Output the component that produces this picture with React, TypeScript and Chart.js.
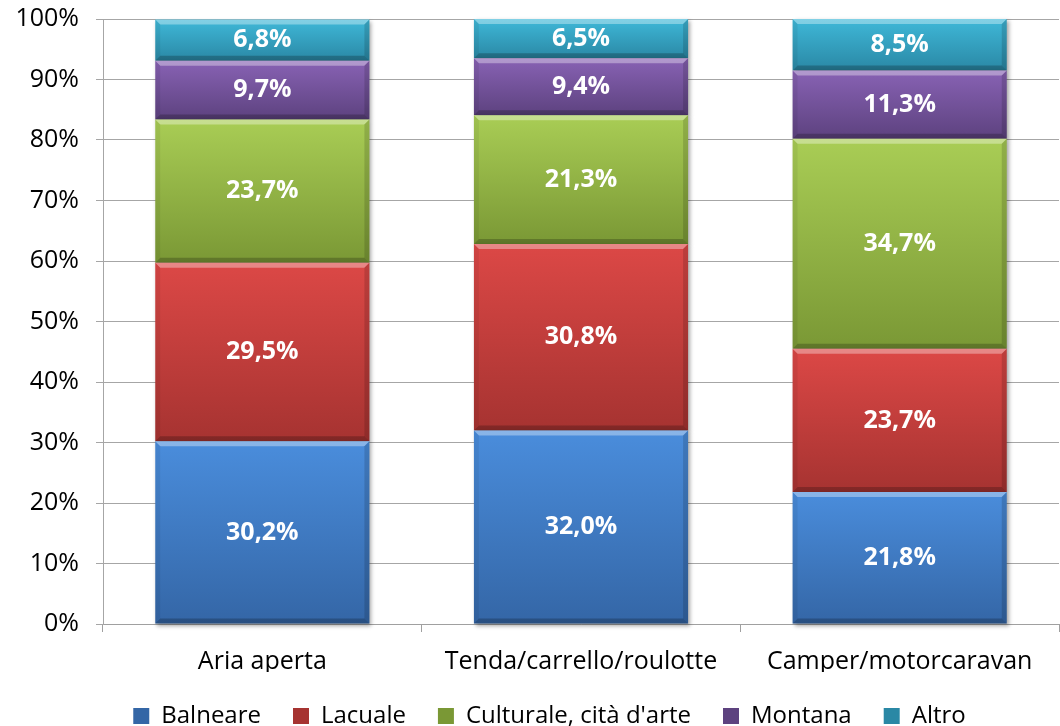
import React, { useEffect, useRef } from "react";
import { Chart, registerables } from "chart.js";

Chart.register(...registerables);

const categories = ["Aria aperta", "Tenda/carrello/roulotte", "Camper/motorcaravan"];
const seriesNames = ["Balneare", "Lacuale", "Culturale, cità d'arte", "Montana", "Altro"];
const balneare = [30.2, 32.0, 21.8];
const lacuale = [29.5, 30.8, 23.7];
const culturale = [23.7, 21.3, 34.7];
const montana = [9.7, 9.4, 11.3];
const altro = [6.8, 6.5, 8.5];
const yTickValues = [0, 10, 20, 30, 40, 50, 60, 70, 80, 90, 100];

const seriesData = [balneare, lacuale, culturale, montana, altro];

const palettes = [
  { top: "#4a8ddc", bottom: "#3466a6", solid: "#4079c5" },
  { top: "#dc4846", bottom: "#a63331", solid: "#c43e3c" },
  { top: "#a9cd55", bottom: "#7a9835", solid: "#93b548" },
  { top: "#8862b4", bottom: "#5d427f", solid: "#7353a0" },
  { top: "#3fb8d8", bottom: "#2a88a5", solid: "#35a3c4" },
];

const FONT = "'Open Sans', 'Noto Sans', sans-serif";

const fmt = (v: number) => v.toFixed(1).replace(".", ",") + "%";

const bevelPlugin = {
  id: "bevelLabels",
  afterLayout(chart: any) {
    if (chart.legend) {
      chart.legend.left += 20;
      chart.legend.right += 20;
    }
  },
  beforeDatasetsDraw(chart: any) {
    const ctx = chart.ctx;
    ctx.save();
    ctx.shadowColor = "rgba(0,0,0,0.35)";
    ctx.shadowBlur = 4;
    ctx.shadowOffsetX = 2;
    ctx.shadowOffsetY = 2;
  },
  afterDatasetsDraw(chart: any) {
    const ctx = chart.ctx;
    ctx.restore();
    ctx.save();
    const b = 5;
    chart.data.datasets.forEach((ds: any, di: number) => {
      const meta = chart.getDatasetMeta(di);
      meta.data.forEach((el: any, i: number) => {
        const p = el.getProps(["x", "y", "base", "width"], true);
        const left = p.x - p.width / 2;
        const right = p.x + p.width / 2;
        const top = Math.min(p.y, p.base);
        const bottom = Math.max(p.y, p.base);
        const poly = (pts: number[][], color: string) => {
          ctx.beginPath();
          ctx.moveTo(pts[0][0], pts[0][1]);
          for (let k = 1; k < pts.length; k++) ctx.lineTo(pts[k][0], pts[k][1]);
          ctx.closePath();
          ctx.fillStyle = color;
          ctx.fill();
        };
        poly([[left, top], [right, top], [right - b, top + b], [left + b, top + b]], "rgba(255,255,255,0.35)");
        poly([[left, bottom], [right, bottom], [right - b, bottom - b], [left + b, bottom - b]], "rgba(0,0,0,0.22)");
        poly([[left, top], [left + b, top + b], [left + b, bottom - b], [left, bottom]], "rgba(0,0,0,0.06)");
        poly([[right, top], [right - b, top + b], [right - b, bottom - b], [right, bottom]], "rgba(0,0,0,0.14)");
        const v = ds.data[i];
        ctx.fillStyle = "#ffffff";
        ctx.font = `bold 25px ${FONT}`;
        ctx.textAlign = "center";
        ctx.textBaseline = "middle";
        ctx.fillText(fmt(v), p.x, (top + bottom) / 2);
      });
    });
    ctx.restore();
  },
};

export default function App() {
  const ref = useRef<HTMLCanvasElement | null>(null);
  useEffect(() => {
    if (!ref.current) return;
    const chart = new Chart(ref.current, {
      type: "bar",
      data: {
        labels: categories,
        datasets: seriesNames.map((name, di) => ({
          label: name,
          data: seriesData[di],
          borderWidth: 0,
          categoryPercentage: 1,
          barPercentage: 0.672,
          clip: false as any,
          backgroundColor: (c: any) => {
            const p = palettes[c.datasetIndex];
            if (c.type !== "data") return p.solid;
            const ch = c.chart;
            const y = ch.scales && ch.scales.y;
            if (!y || !ch.chartArea) return p.solid;
            let start = 0;
            for (let d = 0; d < c.datasetIndex; d++) start += seriesData[d][c.dataIndex];
            const end = start + seriesData[c.datasetIndex][c.dataIndex];
            const y0 = y.getPixelForValue(end);
            const y1 = y.getPixelForValue(start);
            if (!isFinite(y0) || !isFinite(y1) || y0 === y1) return p.solid;
            const g = ch.ctx.createLinearGradient(0, y0, 0, y1);
            g.addColorStop(0, p.top);
            g.addColorStop(1, p.bottom);
            return g;
          },
        })),
      },
      options: {
        animation: false,
        responsive: true,
        maintainAspectRatio: false,
        layout: { padding: { top: 19, right: 1, left: 0, bottom: -12 } },
        plugins: {
          legend: {
            position: "bottom",
            labels: {
              boxWidth: 16,
              boxHeight: 16,
              padding: 32,
              color: "#000000",
              font: { family: FONT, size: 24 },
            },
          },
          tooltip: { enabled: false },
        },
        scales: {
          x: {
            stacked: true,
            grid: { display: true, drawOnChartArea: false, drawTicks: true, tickLength: 8, color: "#a0a0a0" },
            border: { display: true, color: "#a0a0a0" },
            ticks: { color: "#000000", padding: 15, font: { family: FONT, size: 25 } },
            afterFit: (s: any) => {
              s.height = 48;
            },
          },
          y: {
            stacked: true,
            min: 0,
            max: 100,
            afterBuildTicks: (s: any) => {
              s.ticks = yTickValues.map((v) => ({ value: v }));
            },
            grid: { color: "#a6a6a6", tickLength: 7 },
            border: { display: true, color: "#a6a6a6" },
            ticks: {
              color: "#000000",
              padding: 17,
              font: { family: FONT, size: 25 },
              callback: (v: any) => v + "%",
            },
            afterFit: (s: any) => {
              s.width = 103;
              s.paddingTop = 0;
              s.paddingBottom = 0;
            },
          },
        },
      },
      plugins: [bevelPlugin],
    });
    return () => chart.destroy();
  }, []);
  return (
    <div style={{ position: "absolute", left: 0, top: 0, width: 1060, height: 726, background: "#ffffff" }}>
      <canvas ref={ref} />
    </div>
  );
}
